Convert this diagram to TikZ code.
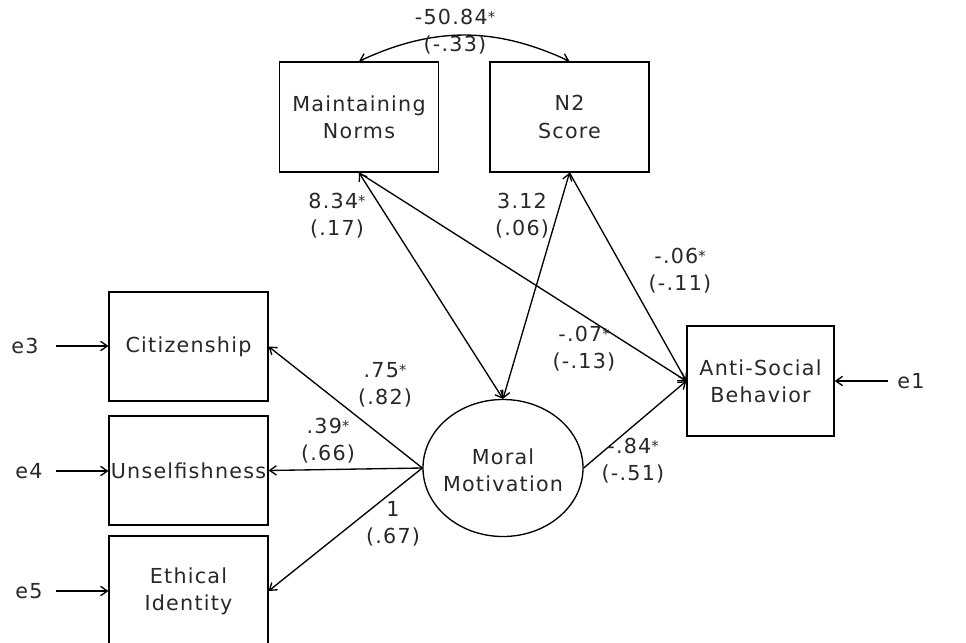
\documentclass[tikz,border=0pt]{standalone}
\usepackage{fontspec}
\setmainfont[LetterSpace=6]{DejaVu Sans}
\usetikzlibrary{arrows.meta,shapes.geometric}
\newcommand{\mytxt}{\fontsize{15.5}{20.5}\selectfont}
\newcommand{\sig}{\raisebox{1.5pt}{\fontsize{11}{11}\selectfont *}}
\definecolor{txtc}{RGB}{40,40,40}
\begin{document}
\begin{tikzpicture}[x=0.75pt,y=-0.75pt,
  box/.style={draw, line width=1.1pt, minimum width=119pt, minimum height=82.5pt, inner sep=0pt, align=center, font=\mytxt, text=txtc},
  lat/.style={draw, ellipse, line width=1pt, minimum width=120pt, minimum height=102.75pt, inner sep=0pt},
  lbl/.style={inner sep=0pt, align=center, font=\mytxt, text=txtc},
  arr/.style={line width=1pt, -{Straight Barb[length=5pt,width=7pt]}},
  darr/.style={line width=1pt, {Straight Barb[length=5pt,width=7pt]}-{Straight Barb[length=5pt,width=7pt]}}
]
\clip (0,0) rectangle (966,642);
\fill[white] (0,0) rectangle (966,642);

% observed variables
\node[box] (mn) at (359,117) {Maintaining\\Norms};
\node[box] (n2) at (569.5,117) {N2\\Score};
\node[box, minimum height=81.75pt] (cit) at (188.5,346.5) {Citizenship};
\node[box, minimum height=81.75pt] (uns) at (188.5,470.5) {Unselfishness};
\node[box] (eth) at (188.5,591) {Ethical\\Identity};
\node[box, minimum width=110.25pt] (asb) at (760.5,381) {Anti-Social\\Behavior};

% latent
\node[lat] (mm) at (503,468) {};
\node[lbl] (mmt) at (503,470) {Moral\\Motivation};

% errors
\node[lbl] (e3) at (25,346) {e3};
\node[lbl] (e4) at (29,471) {e4};
\node[lbl] (e5) at (29,591) {e5};
\node[lbl] (e1) at (911,381) {e1};

\draw[arr, shorten <=13pt] (e3.east) -- (e3.east -| cit.west);
\draw[arr, shorten <=10pt] (e4.east) -- (e4.east -| uns.west);
\draw[arr, shorten <=10pt] (e5.east) -- (e5.east -| eth.west);
\draw[arr, shorten <=7pt] (e1.west) -- (e1.west -| asb.east);

% covariance
\draw[darr] (mn.north) to[bend left=25] (n2.north);

% paths
\draw[darr] (mn.south) -- (mm.north);
\draw[darr] (n2.south) -- (mm.north);
\draw[arr] (mn.south) -- (asb.west);
\draw[arr] (n2.south) -- (asb.west);
\draw[arr] (mm.east) -- (asb.west);
\draw[arr] (mm.west) -- (cit.east);
\draw[arr] (mm.west) -- (uns.east);
\draw[arr] (mm.west) -- (eth.east);

% labels
\node[lbl] (lcov) at (455,32) {-50.84\sig\\(-.33)};
\node[lbl] (lmn) at (337,216) {8.34\sig\\(.17)};
\node[lbl] (ln2) at (522,216) {3.12\\(.06)};
\node[lbl] (ln2a) at (680,271) {-.06\sig\\(-.11)};
\node[lbl] (lmna) at (584,349) {-.07\sig\\(-.13)};
\node[lbl] (lmma) at (633,461) {-.84\sig\\(-.51)};
\node[lbl] (lcit) at (385,385) {.75\sig\\(.82)};
\node[lbl] (luns) at (328,441) {.39\sig\\(.66)};
\node[lbl] (leth) at (393,524) {1\\(.67)};
\end{tikzpicture}
\end{document}
